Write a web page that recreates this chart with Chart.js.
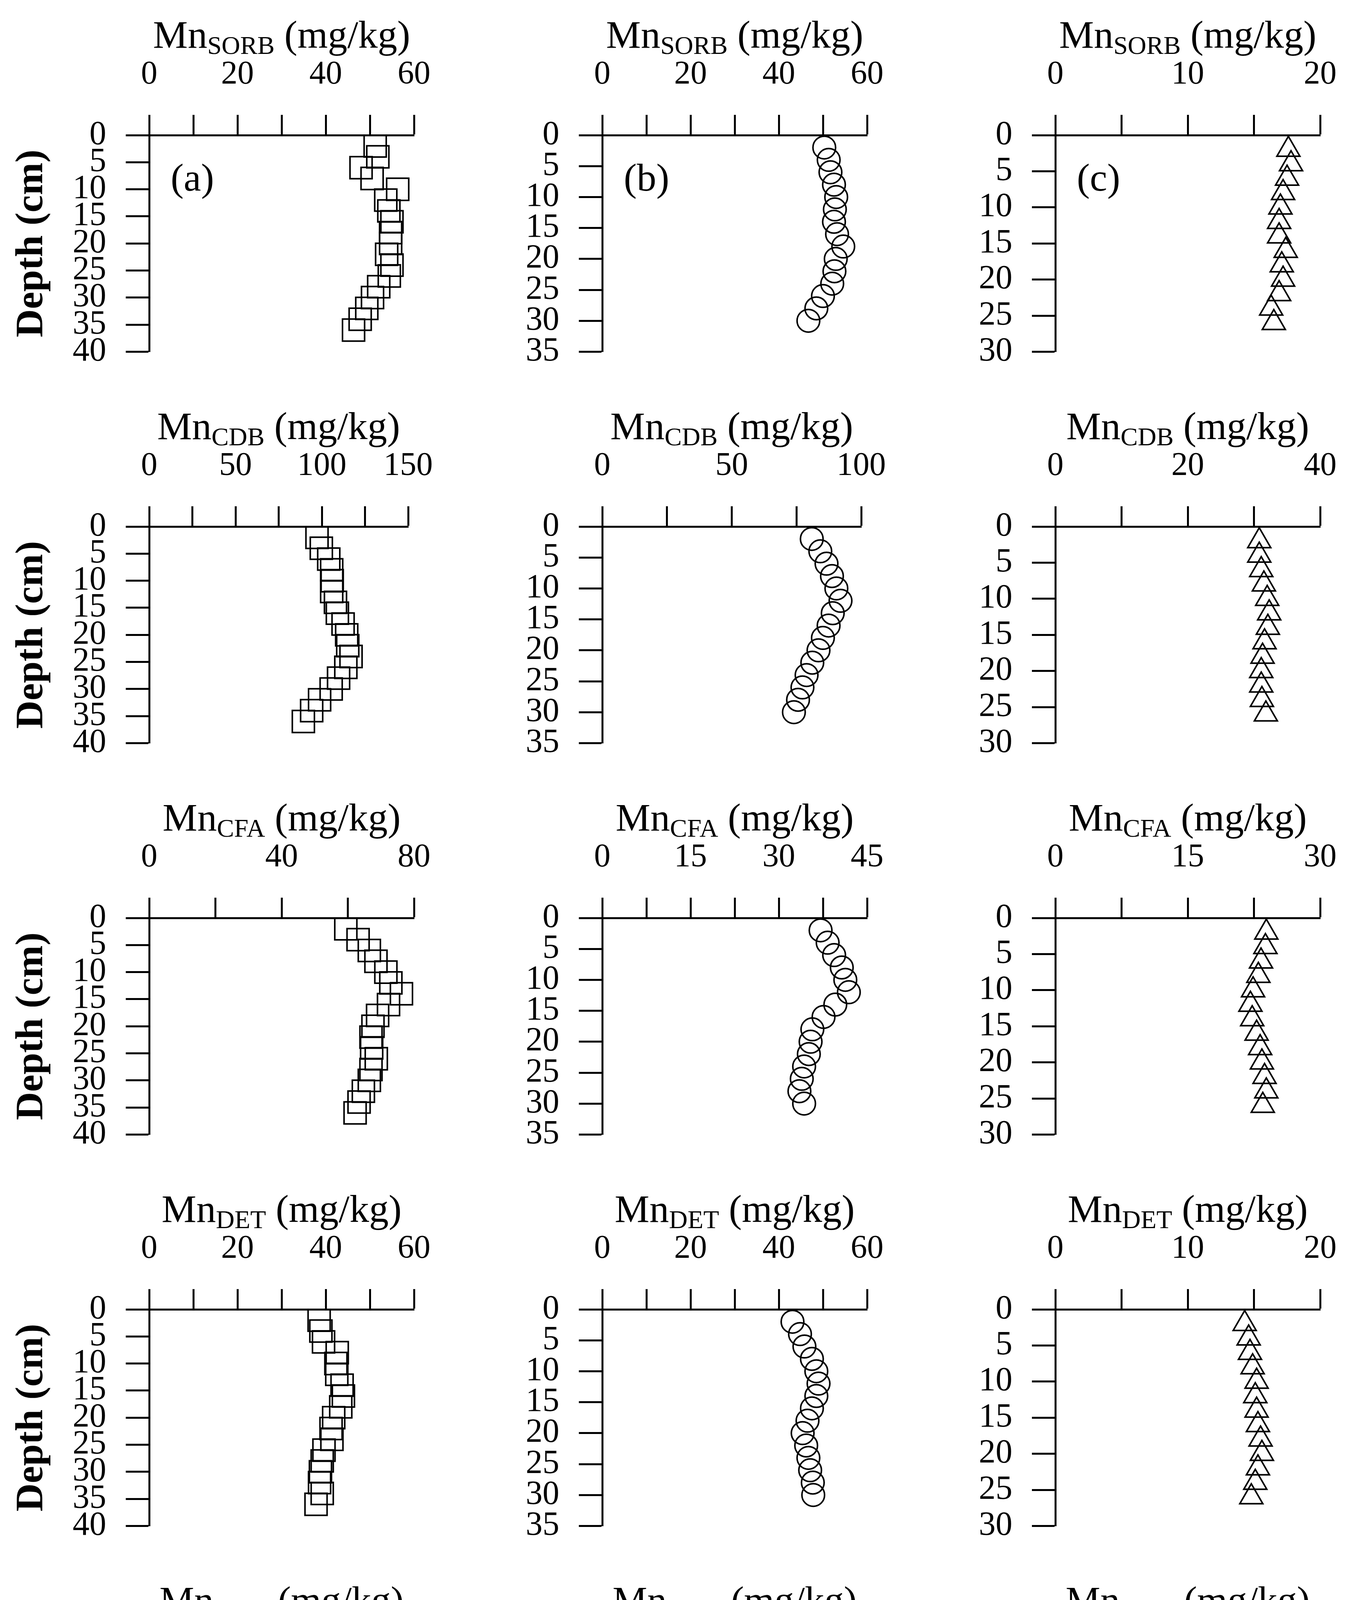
<!DOCTYPE html>
<html>
<head>
<meta charset="utf-8">
<script src="https://cdn.jsdelivr.net/npm/chart.js@4/dist/chart.umd.min.js"></script>
<style>
  html, body { margin: 0; padding: 0; background: #fff; overflow: hidden; }
  #page { position: relative; width: 3482px; height: 5059px; }
  .cell { position: absolute; width: 1160px; height: 1002px; }
</style>
</head>
<body>
<div id="page"></div>
<script>
// depths (cm) for each site
const depthA = [2, 4, 6, 8, 10, 12, 14, 16, 18, 20, 22, 24, 26, 28, 30, 32, 34, 36];
const depthB = [2, 4, 6, 8, 10, 12, 14, 16, 18, 20, 22, 24, 26, 28, 30];
const depthC = [2, 4, 6, 8, 10, 12, 14, 16, 18, 20, 22, 24, 26];

// Mn fractions (mg/kg), site (a)
const sorbA = [51.2, 51.8, 48.0, 50.5, 56.3, 53.6, 54.3, 55.0, 54.7, 54.7, 53.8, 55.0, 54.4, 52.0, 50.6, 49.3, 47.8, 46.3];
const cdbA = [97.2, 99.7, 104, 105.7, 106, 105.7, 107.9, 109, 112.3, 114.4, 115, 116.9, 113.9, 109.7, 105.4, 98.7, 94.1, 89.3];
const cfaA = [59.4, 63.1, 66.5, 68.5, 71.5, 73.0, 76.2, 72.3, 69.0, 67.6, 67.0, 67.2, 68.6, 67.0, 66.5, 64.7, 63.4, 62.2];
const detA = [38.5, 38.9, 39.5, 42.6, 42.3, 42.5, 43.7, 44.0, 43.4, 41.8, 41.2, 41.4, 39.6, 39.2, 38.8, 38.6, 39.2, 37.8];
const orgA = [30.8, 31.9, 32.6, 32.2, 32.9, 33.5, 34.7, 36.4, 35.8, 36.7, 37.8, 35.1, 33.8, 31.3, 30.2, 29.8, 29.7, 30.6];

// site (b)
const sorbB = [50.3, 51.3, 51.7, 52.5, 53.0, 52.7, 52.5, 53.2, 54.6, 52.9, 52.6, 52.1, 50.0, 48.5, 46.7];
const cdbB = [80.9, 84.2, 86.6, 88.7, 90.4, 92.0, 89.0, 87.4, 85.2, 83.5, 81.1, 78.9, 77.3, 75.6, 74.0];
const cfaB = [37.1, 38.3, 39.4, 40.7, 41.3, 41.9, 39.6, 37.6, 35.7, 35.4, 35.1, 34.3, 33.9, 33.5, 34.3];
const detB = [43.1, 44.8, 45.8, 47.5, 48.5, 49.0, 48.5, 47.5, 46.5, 45.4, 46.2, 46.7, 47.1, 47.7, 47.8];
const orgB = [20.1, 21.9, 22.6, 23.3, 22.6, 22.4, 21.9, 23.0, 24.7, 25.5, 25.2, 24.7, 24.1, 23.5, 23.0];

// site (c)
const sorbC = [17.6, 17.8, 17.5, 17.2, 17.0, 16.9, 16.9, 17.4, 17.1, 17.2, 16.9, 16.3, 16.5];
const cdbC = [30.8, 30.8, 31.1, 31.5, 32.0, 32.3, 32.1, 31.6, 31.3, 31.1, 31.1, 31.2, 31.8];
const cfaC = [23.9, 23.8, 23.3, 23.0, 22.4, 22.1, 22.3, 22.8, 23.2, 23.4, 23.7, 23.9, 23.5];
const detC = [14.3, 14.6, 14.7, 14.9, 15.2, 15.1, 15.2, 15.3, 15.5, 15.6, 15.3, 15.1, 14.8];
const orgC = [13.2, 12.9, 13.4, 13.4, 13.5, 13.6, 13.3, 13.0, 12.9, 12.7, 13.0, 13.4, 13.4];

// fraction names (subscripts) per row
const fractions = ['SORB', 'CDB', 'CFA', 'DET', 'ORG'];
const siteLabels = ['(a)', '(b)', '(c)'];

// x axis: [max, labelled step, tick step] per row and column
const xAxesA = [[60, 20, 10], [150, 50, 25], [80, 40, 20], [60, 20, 10], [40, 20, 10]];
const xAxesB = [[60, 20, 10], [100, 50, 25], [45, 15, 7.5], [60, 20, 10], [30, 10, 5]];
const xAxesC = [[20, 10, 5], [40, 20, 10], [30, 15, 7.5], [20, 10, 5], [20, 10, 5]];
const depthMax = [40, 35, 30];

const FONT = "'Liberation Serif', 'DejaVu Serif', serif";
const sites = [
  { depth: depthA, series: [sorbA, cdbA, cfaA, detA, orgA], axes: xAxesA, style: 'rect', radius: 40 },
  { depth: depthB, series: [sorbB, cdbB, cfaB, detB, orgB], axes: xAxesB, style: 'circle', radius: 29 },
  { depth: depthC, series: [sorbC, cdbC, cfaC, detC, orgC], axes: xAxesC, style: 'triangle', radius: 34 },
];

// Title with subscript + panel letter
const panelText = {
  id: 'panelText',
  afterDraw(chart, args, opts) {
    const { ctx, chartArea } = chart;
    ctx.save();
    ctx.fillStyle = '#000';
    ctx.textBaseline = 'alphabetic';
    const big = '100px ' + FONT, small = '66px ' + FONT;
    ctx.font = big; const w1 = ctx.measureText('Mn').width;
    ctx.font = small; const w2 = ctx.measureText(opts.sub).width;
    ctx.font = big; const w3 = ctx.measureText(' (mg/kg)').width;
    let x = (chartArea.left + chartArea.right) / 2 - (w1 + w2 + w3) / 2;
    const y = 122;
    ctx.textAlign = 'left';
    ctx.fillText('Mn', x, y); x += w1;
    ctx.font = small; ctx.fillText(opts.sub, x, y + 16); x += w2;
    ctx.font = big; ctx.fillText(' (mg/kg)', x, y);
    if (opts.letter) {
      ctx.font = '100px ' + FONT;
      ctx.fillText(opts.letter, chartArea.left + 55, chartArea.top + 142);
    }
    ctx.restore();
  }
};

const page = document.getElementById('page');

sites.forEach((site, col) => {
  site.series.forEach((values, row) => {
    const [xMax, labelStep, tickStep] = site.axes[row];
    const cell = document.createElement('div');
    cell.className = 'cell';
    cell.style.left = (col * 1160) + 'px';
    cell.style.top = (row * 1002) + 'px';
    const canvas = document.createElement('canvas');
    canvas.width = 1160; canvas.height = 1002;
    cell.appendChild(canvas);
    page.appendChild(cell);

    new Chart(canvas.getContext('2d'), {
      type: 'scatter',
      data: {
        datasets: [{
          data: values.map((v, i) => ({ x: v, y: site.depth[i] })),
          pointStyle: site.style,
          pointRadius: site.radius,
          pointHoverRadius: site.radius,
          pointBorderWidth: 4,
          borderColor: '#000',
          pointBackgroundColor: 'rgba(0,0,0,0)',
        }]
      },
      options: {
        responsive: false,
        animation: false,
        devicePixelRatio: 1,
        layout: { padding: { left: 0, right: 100, top: 0, bottom: 39 } },
        plugins: {
          legend: { display: false },
          tooltip: { enabled: false },
          panelText: { sub: fractions[row], letter: row === 0 ? siteLabels[col] : '' },
        },
        scales: {
          x: {
            position: 'top',
            min: 0, max: xMax,
            afterFit: s => { s.height = 346; },
            afterBuildTicks: s => {
              const t = [];
              for (let v = 0; v <= xMax + 1e-9; v += tickStep) t.push({ value: v });
              s.ticks = t;
            },
            ticks: {
              color: '#000', padding: 52, maxRotation: 0, autoSkip: false,
              font: { family: FONT, size: 84 },
              callback: v => (Math.abs(v / labelStep - Math.round(v / labelStep)) < 1e-6 ? String(v) : ''),
            },
            grid: { drawOnChartArea: false, drawTicks: true, tickLength: 52, tickWidth: 5, tickColor: '#000' },
            border: { display: true, color: '#000', width: 5 },
          },
          y: {
            reverse: true,
            min: 0, max: depthMax[col],
            afterFit: s => { s.width = 382; },
            ticks: {
              stepSize: 5, color: '#000', padding: 50, autoSkip: false,
              font: { family: FONT, size: 86 },
            },
            title: {
              display: col === 0, text: 'Depth (cm)', color: '#000',
              font: { family: FONT, size: 100, weight: 'bold' }, padding: { top: 22, bottom: 0 },
            },
            grid: { drawOnChartArea: false, drawTicks: true, tickLength: 60, tickWidth: 5, tickColor: '#000' },
            border: { display: true, color: '#000', width: 5 },
          },
        },
      },
      plugins: [panelText],
    });
  });
});
</script>
</body>
</html>
